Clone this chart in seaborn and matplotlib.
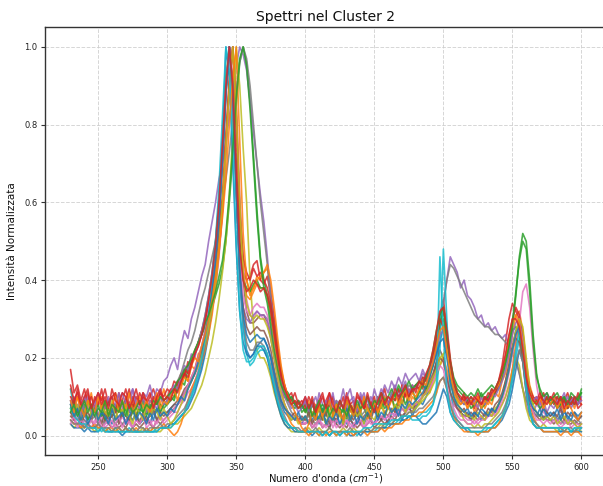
import numpy as np
import pandas as pd
import matplotlib
matplotlib.use("Agg")
import matplotlib.pyplot as plt
import seaborn as sns

# wavenumber range of every spectrum (cm^-1); samples evenly spaced
x_start, x_end = 230, 600

# intensities (x100), sampled every 2.5 cm^-1
s00 = [9,7,6,5,7,4,6,5,3,6,4,5,3,5,4,6,3,5,4,6,3,4,5,3,6,4,5,6,
       6,7,8,8,10,11,13,14,16,18,21,25,29,35,44,56,
       71,88,100,88,64,40,28,22,20,21,23,24,
       25,23,20,15,11,8,6,5,4,5,4,3,
       5,3,4,6,3,5,4,2,5,3,6,4,3,5,2,4,6,3,5,4,3,6,4,5,3,6,5,7,4,6,8,5,
       7,9,8,10,12,15,19,24,28,24,16,10,7,6,5,6,
       4,6,5,4,6,5,7,6,8,10,13,17,22,27,29,24,15,9,6,5,7,4,6,5,
       6,4,5,7,4,6,5,4,5]
s01 = [12,8,10,6,9,7,11,6,8,10,5,9,7,11,8,6,10,7,9,5,8,11,6,9,7,10,8,12,
       9,11,10,13,12,16,14,18,17,21,22,26,29,33,40,48,
       58,73,90,100,86,60,45,40,37,38,41,40,
       42,43,38,30,22,16,12,10,8,9,7,8,
       6,9,5,8,7,4,8,6,10,5,7,4,9,6,8,5,7,10,4,6,9,5,8,6,7,10,6,9,8,11,7,10,
       9,12,10,13,11,14,16,18,20,17,13,11,9,8,10,7,
       9,6,8,10,7,9,8,11,10,14,16,20,26,31,32,27,19,13,10,8,9,7,10,8,
       9,7,10,6,8,9,7,10,8]
s02 = [8,6,7,5,8,4,6,7,5,6,4,7,5,6,8,5,7,4,6,5,7,6,8,5,7,6,8,7,
       8,9,10,12,14,16,18,19,21,24,26,28,30,33,36,39,
       43,50,60,72,85,96,100,96,86,72,58,46,
       40,36,30,24,18,13,10,9,8,7,9,6,
       7,5,8,6,4,7,5,8,6,9,5,7,4,8,6,5,9,7,5,8,6,10,7,9,8,11,9,12,10,13,11,12,
       13,12,14,15,17,20,24,28,30,25,18,14,12,11,10,9,
       10,8,9,11,9,10,12,11,13,15,18,22,28,36,46,52,50,40,26,16,11,9,10,8,
       9,10,8,9,7,10,9,8,11]
s03 = [17,11,13,9,12,8,10,7,11,9,12,8,10,11,7,9,12,8,10,7,11,9,8,10,12,9,11,10,
       12,11,14,13,16,15,19,18,22,24,27,30,34,39,46,57,
       72,88,100,92,70,50,42,40,41,44,45,40,
       39,41,36,30,23,17,13,10,11,8,9,7,
       9,6,10,7,8,5,9,11,6,8,7,10,5,8,9,6,10,7,8,5,9,6,11,8,7,10,9,12,8,11,10,13,
       11,14,12,15,17,20,25,31,35,28,20,14,11,9,10,8,
       9,7,10,8,9,11,10,12,14,18,24,30,34,32,30,24,17,12,9,10,8,11,9,10,
       8,10,7,9,11,8,10,9,8]
s04 = [8,10,7,9,6,10,8,7,11,6,9,8,10,7,9,11,8,10,12,9,8,11,10,13,9,12,11,14,
       15,18,20,17,23,27,25,30,33,37,41,44,50,55,60,66,
       70,76,82,88,95,100,98,94,86,78,70,62,
       55,46,36,28,20,15,12,9,10,8,9,7,
       10,7,9,6,11,8,7,10,6,9,8,12,7,9,10,6,11,8,9,7,12,9,10,13,11,14,12,15,13,16,14,15,
       16,14,17,15,18,20,22,28,34,40,46,44,42,38,40,36,
       35,33,30,31,28,29,27,28,26,25,26,23,22,20,16,12,8,5,6,8,7,9,6,8,
       7,9,6,8,10,7,9,8,10]
s05 = [5,4,3,4,2,3,4,2,3,2,4,3,2,3,2,3,2,4,2,3,2,3,4,3,2,4,3,4,
       5,6,7,8,9,11,12,14,16,18,21,24,28,33,39,47,
       58,74,90,100,82,58,40,32,29,29,30,31,
       31,29,25,20,15,11,8,6,5,4,4,3,
       3,4,2,3,4,2,3,2,4,3,2,3,2,4,3,2,3,2,3,4,2,3,4,3,4,5,4,6,5,6,7,6,
       8,9,10,12,14,16,19,22,20,15,11,8,7,6,5,5,
       4,5,4,5,4,6,5,6,8,10,14,18,23,27,26,21,14,9,6,5,4,5,4,4,
       3,4,3,4,3,3,4,3,3]
s06 = [4,3,5,2,4,3,2,4,3,5,2,3,4,2,3,5,3,4,2,4,3,5,3,4,2,4,5,3,
       4,5,6,6,8,9,11,12,14,17,20,23,27,32,38,46,
       57,73,89,100,85,62,44,35,31,30,32,31,
       30,29,27,22,16,11,8,6,5,5,4,4,
       3,4,3,2,4,3,2,3,4,2,3,3,4,2,3,4,3,2,4,3,3,4,5,4,5,4,6,5,7,6,7,8,
       8,9,10,11,13,15,17,20,19,15,11,8,7,5,5,4,
       4,3,4,5,4,5,6,5,7,8,10,13,17,22,29,37,39,33,22,13,8,6,5,4,
       5,4,3,4,3,4,3,3,2]
s07 = [6,5,4,5,4,3,4,5,3,4,3,4,5,3,4,3,4,5,4,5,4,5,6,5,6,7,6,8,
       9,10,12,14,16,19,22,24,27,31,35,38,42,46,50,55,
       60,66,73,81,89,96,100,97,90,80,70,60,
       52,44,35,27,20,14,10,8,6,5,5,4,
       4,5,4,3,4,5,3,4,5,4,3,4,5,4,5,6,5,6,7,6,8,7,9,8,10,9,11,10,12,11,13,12,
       13,14,15,15,16,18,21,27,34,40,44,43,41,39,37,35,
       33,31,30,29,28,28,27,26,26,25,24,23,21,19,16,12,9,7,6,5,5,4,5,4,
       4,5,4,3,4,4,3,4,3]
s08 = [3,2,3,2,2,3,2,1,2,2,1,2,1,2,1,1,2,1,2,1,1,2,1,1,2,1,1,2,
       2,2,3,3,4,5,6,7,9,11,13,16,20,24,29,35,
       42,50,62,78,100,90,74,60,40,28,22,20,
       20,18,15,11,8,5,3,2,1,1,1,1,
       1,2,1,1,2,1,1,2,1,1,1,2,1,1,2,1,1,1,2,1,2,2,3,2,3,3,4,4,5,5,6,6,
       7,8,9,10,11,13,15,18,21,22,19,13,9,6,4,3,
       3,2,3,2,3,3,4,5,6,8,10,13,17,20,18,12,7,4,3,2,2,3,2,2,
       2,1,2,1,2,1,1,2,1]
s09 = [12,7,5,4,3,3,2,2,2,1,2,1,1,2,1,1,1,2,1,1,1,1,2,1,1,2,2,2,
       2,3,3,4,5,6,8,10,12,15,18,22,27,34,43,55,
       70,88,100,90,66,42,28,21,18,19,21,22,
       22,20,17,13,9,6,4,3,2,2,1,1,
       1,1,1,1,0,1,1,0,1,0,1,1,0,1,1,0,1,1,1,1,1,2,2,2,3,3,3,4,4,4,5,5,
       5,5,6,6,7,8,11,22,48,30,12,6,4,3,2,2,
       1,1,1,1,1,2,2,3,4,5,7,10,14,20,25,23,14,7,4,3,2,2,2,2,
       2,2,1,2,2,1,2,1,2]
s10 = [3,2,2,2,1,2,1,1,1,2,1,1,1,1,1,0,1,1,1,1,1,1,1,1,1,1,2,2,
       2,3,3,4,5,6,7,9,11,14,17,21,26,33,42,54,
       74,100,92,70,48,32,24,21,20,21,23,23,
       22,20,16,12,8,5,3,2,2,1,1,1,
       1,1,0,1,1,0,1,0,1,1,0,1,1,0,0,1,0,1,1,1,1,1,2,2,2,3,3,3,4,4,5,5,
       5,4,3,3,4,5,6,9,12,10,6,4,3,2,2,1,
       1,1,1,1,1,1,2,2,3,4,6,8,12,17,22,19,11,6,3,2,2,1,1,1,
       1,1,1,1,1,1,1,1,1]
s11 = [4,3,3,2,3,2,2,3,2,2,1,2,2,1,2,1,2,1,1,2,1,1,2,1,2,2,2,3,
       2,1,0,1,3,6,9,12,14,16,19,22,26,31,38,47,
       58,74,90,100,84,58,42,36,35,37,39,38,
       38,36,32,25,18,12,8,5,3,2,1,1,
       1,0,1,1,0,1,0,1,1,0,1,1,0,1,0,1,1,1,0,1,1,1,2,1,2,2,3,3,3,4,4,5,
       5,6,6,7,8,9,11,14,15,12,8,5,3,2,1,1,
       1,1,0,1,1,1,2,2,3,5,7,11,17,24,30,27,17,9,5,3,2,1,1,1,
       1,1,0,1,1,0,1,1,0]
s12 = [7,9,6,8,5,9,7,6,8,5,7,9,6,8,7,5,9,6,8,7,6,9,5,8,7,9,6,8,
       8,10,9,12,14,13,17,19,21,24,27,31,36,42,50,60,
       76,92,100,88,66,48,40,38,37,39,40,38,
       38,36,33,27,21,16,12,11,9,8,9,7,
       8,6,9,5,7,8,6,9,5,8,7,6,9,7,5,8,6,9,7,6,8,5,9,7,8,10,7,9,11,8,10,12,
       9,11,13,12,15,18,23,29,32,26,18,13,11,9,8,9,
       7,8,9,7,8,10,9,11,12,15,19,23,27,28,26,20,14,10,8,9,7,8,10,8,
       9,7,8,10,7,9,8,10,11]
s13 = [10,8,12,7,9,11,6,10,8,12,7,9,10,6,11,8,9,12,7,10,8,11,9,6,10,8,11,9,
       10,12,11,14,13,17,16,19,21,23,26,29,33,38,44,52,
       62,78,92,100,82,58,46,42,40,43,41,42,
       40,38,34,28,21,16,13,10,9,11,8,9,
       7,10,8,6,9,11,7,8,10,6,9,7,11,8,6,10,9,7,11,8,10,6,9,12,8,10,11,9,13,10,12,11,
       13,12,15,14,17,21,25,30,28,22,16,12,10,9,11,8,
       10,9,11,8,10,9,12,11,13,16,20,25,30,33,31,25,17,12,10,9,11,8,10,9,
       11,8,10,9,7,10,8,11,9]
s14 = [9,6,8,5,10,7,6,9,5,8,7,10,6,8,11,7,9,6,12,8,7,10,6,9,8,7,10,8,
       9,11,13,12,15,18,17,21,20,24,27,31,36,42,50,61,
       76,90,100,86,62,42,33,30,29,31,32,31,
       31,30,26,21,16,12,10,9,7,8,6,7,
       9,6,8,10,7,5,9,8,11,6,9,7,10,12,8,6,9,11,7,10,8,9,12,10,8,11,13,10,12,14,11,13,
       12,14,16,15,17,19,22,26,27,22,16,12,10,9,8,10,
       8,9,7,10,8,9,11,10,12,14,17,21,26,29,30,25,16,11,9,10,8,9,11,9,
       10,8,9,11,8,9,10,8,9]
s15 = [6,4,7,3,5,6,4,7,5,3,6,4,5,7,3,6,5,4,7,5,3,6,4,5,7,4,6,5,
       6,7,8,9,10,12,13,15,17,20,23,27,32,38,46,57,
       72,89,100,87,63,43,33,28,26,27,28,27,
       27,25,22,17,13,9,7,6,5,6,4,5,
       4,6,3,5,7,4,6,3,5,4,6,3,7,5,4,6,3,5,6,4,7,5,4,6,5,7,6,8,7,6,8,7,
       8,9,10,11,13,15,18,20,19,15,11,9,7,6,7,5,
       6,5,7,6,5,7,6,8,9,11,14,18,22,25,24,19,12,8,7,6,5,7,6,5,
       6,5,7,4,6,5,6,4,5]
s16 = [3,5,2,4,3,2,4,3,5,2,3,4,2,3,5,2,4,3,2,4,3,5,2,3,4,3,5,4,
       5,6,7,8,9,11,13,15,17,20,23,27,32,38,46,57,
       73,90,100,88,64,46,36,32,31,33,34,33,
       33,31,28,22,16,11,8,6,5,4,4,3,
       3,4,2,3,4,2,3,5,2,4,3,2,4,3,2,3,4,2,3,4,3,4,5,4,5,6,5,6,7,6,7,8,
       8,9,10,11,12,14,16,18,17,13,9,7,5,4,4,3,
       3,4,3,4,4,5,5,6,7,9,12,16,21,26,28,24,15,9,6,4,4,3,4,3,
       4,3,2,3,4,2,3,2,3]
s17 = [4,3,3,3,2,3,2,2,3,2,2,2,1,2,2,1,2,1,2,1,2,2,1,2,2,2,3,2,
       3,3,4,5,6,7,9,11,13,16,19,23,28,35,44,56,
       72,89,100,88,64,42,30,24,22,22,24,24,
       23,21,18,14,10,7,5,3,2,2,2,1,
       2,1,1,2,1,1,1,2,1,1,1,1,1,2,1,1,1,1,2,1,2,2,2,3,3,3,4,4,5,5,6,6,
       6,7,7,8,9,10,12,14,15,12,8,5,4,3,2,2,
       2,2,2,2,2,3,3,4,5,6,8,11,15,19,22,19,11,6,4,3,2,2,2,2,
       2,2,2,1,2,2,1,2,2]
s18 = [7,5,8,4,6,9,5,7,4,8,6,5,9,4,7,6,8,5,3,7,6,4,8,5,7,6,4,7,
       5,3,4,6,8,10,12,14,16,18,21,24,28,33,40,49,
       60,75,90,100,83,60,42,34,31,30,31,30,
       30,28,25,20,15,11,8,6,4,5,3,4,
       5,3,6,4,7,5,3,6,4,8,5,3,6,4,7,5,6,3,7,5,4,6,8,5,7,6,8,7,9,6,8,7,
       9,8,10,11,13,15,17,20,21,22,15,10,8,7,6,5,
       5,4,6,5,4,6,5,7,8,10,13,17,22,27,30,28,20,12,8,6,5,4,5,4,
       5,3,4,5,3,4,3,2,3]
s19 = [7,5,4,3,3,2,2,2,1,2,1,1,1,1,1,1,1,1,1,1,1,1,1,1,1,1,2,2,
       2,2,3,4,5,6,8,10,13,16,20,25,31,39,50,64,
       82,100,94,74,50,32,22,19,19,20,22,23,
       23,21,17,13,9,6,4,3,2,2,1,1,
       1,1,1,1,1,0,1,0,1,1,0,1,1,1,1,1,1,2,2,2,3,3,3,3,3,4,4,4,5,5,5,4,
       4,4,5,5,6,8,13,46,26,12,6,4,3,2,2,2,
       1,1,1,1,2,2,2,3,4,5,7,10,15,22,27,22,12,6,3,2,2,2,2,2,
       2,2,2,2,2,1,2,2,2]
s20 = [8,5,7,4,6,3,5,7,4,6,5,3,7,4,5,6,3,5,7,4,6,5,3,6,4,7,5,6,
       5,7,6,8,10,9,12,14,16,19,22,26,31,37,45,56,
       71,88,100,87,63,43,31,26,24,25,26,25,
       25,23,20,16,12,9,7,6,5,4,6,4,
       5,3,6,4,5,7,3,5,4,6,3,5,7,4,6,3,5,4,6,5,7,4,6,5,8,6,7,5,8,7,9,8,
       9,10,11,13,15,18,21,24,25,20,14,10,8,7,6,7,
       5,6,5,7,6,5,7,6,8,10,13,17,22,26,28,23,15,9,7,6,5,7,5,6,
       5,7,4,6,5,4,6,5,6]
s21 = [9,6,10,7,5,9,8,6,10,7,9,5,8,10,6,9,7,11,6,8,10,7,9,6,8,11,7,9,
       8,10,12,9,13,15,14,18,20,19,23,26,30,35,41,48,
       56,66,80,92,100,76,52,40,36,38,40,41,
       42,44,40,33,25,18,13,10,8,6,4,2,
       1,3,6,4,8,5,7,9,5,8,6,4,9,7,5,8,6,10,7,5,9,6,8,10,7,9,11,8,10,12,9,11,
       10,12,14,13,16,19,23,27,28,22,16,12,10,8,9,7,
       9,8,10,7,9,8,10,12,13,16,20,25,29,31,29,23,16,11,9,8,10,7,9,8,
       10,7,9,6,8,7,5,4,6]
s22 = [6,8,5,7,9,6,8,5,7,6,9,5,8,7,6,9,5,8,6,7,9,6,8,7,9,8,10,9,
       10,11,12,14,15,17,18,20,22,24,26,29,31,34,37,41,
       45,52,62,74,87,97,100,95,84,70,56,45,
       38,34,28,22,17,13,11,9,10,8,7,8,
       6,8,5,7,9,6,8,5,7,6,9,7,5,8,6,9,7,8,10,7,9,8,11,9,10,12,10,13,11,12,14,12,
       13,14,13,15,18,22,27,31,33,26,19,15,13,12,11,10,
       11,10,12,10,11,12,13,12,14,16,19,23,29,37,45,50,48,37,24,15,12,10,11,9,
       10,11,9,10,8,11,10,9,12]
s23 = [13,9,11,8,10,12,7,9,11,8,10,7,12,9,8,11,10,7,9,12,8,10,9,11,7,10,12,9,
       10,9,12,11,14,16,15,18,21,23,26,30,35,41,49,60,
       75,90,100,90,68,48,40,37,38,40,39,37,
       38,36,32,26,20,15,12,10,8,9,7,8,
       10,7,9,6,8,10,7,11,8,6,9,7,10,8,6,11,9,7,10,8,6,9,11,8,10,9,12,10,11,13,10,12,
       12,14,13,16,18,22,27,32,33,27,19,14,11,10,9,10,
       8,10,9,8,10,9,11,12,14,17,21,26,30,30,28,22,15,11,9,8,10,9,8,10,
       9,8,10,7,9,8,10,7,8]

series = [s00, s01, s02, s03, s04, s05, s06, s07, s08, s09, s10, s11,
          s12, s13, s14, s15, s16, s17, s18, s19, s20, s21, s22, s23]

frames = []
for k, s in enumerate(series):
    xs = np.linspace(x_start, x_end, len(s))
    frames.append(pd.DataFrame({"x": xs, "y": np.array(s) / 100.0, "id": k}))
df = pd.concat(frames, ignore_index=True)

sns.set_style("white")
plt.rcParams['font.family'] = ['DejaVu Sans']

fig = plt.figure(figsize=(6.03, 4.86), dpi=100)
ax = fig.add_axes([45 / 603, 31 / 486, 562 / 603, 427.5 / 486])

tab = sns.color_palette("tab10", 10)
palette = [tab[k % 10] for k in range(len(series))]

sns.lineplot(data=df, x="x", y="y", hue="id", palette=palette, legend=False,
             estimator=None, sort=False, linewidth=1.2, alpha=0.85, ax=ax)

ax.set_xlim(211.5, 618.5)
ax.set_ylim(-0.05, 1.05)
ax.set_xticks([250, 300, 350, 400, 450, 500, 550, 600])
ax.set_yticks([0.0, 0.2, 0.4, 0.6, 0.8, 1.0])
ax.grid(True, linestyle="--", linewidth=0.7, color="#cccccc", alpha=0.8)
for sp in ax.spines.values():
    sp.set_color("#333333")
    sp.set_linewidth(1.0)
ax.tick_params(axis="both", labelsize=6, length=3, width=0.8, pad=2.5,
               color="#333333", labelcolor="#222222", bottom=True, left=True)

ax.set_title("Spettri nel Cluster 2", fontsize=10, pad=5, color="#111111")
ax.set_xlabel("Numero d'onda ($cm^{-1}$)", fontsize=7.2, labelpad=0, color="#111111")
ax.set_ylabel("Intensità Normalizzata", fontsize=7.5, labelpad=5, color="#111111")

fig.savefig("out.png", dpi=100)
